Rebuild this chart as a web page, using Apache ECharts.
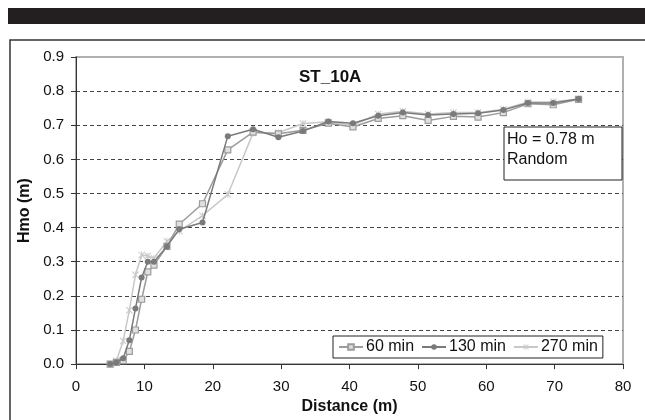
<!DOCTYPE html>
<html>
<head>
<meta charset="utf-8">
<script src="https://cdn.jsdelivr.net/npm/echarts@6/dist/echarts.min.js"></script>
<style>
  html, body { margin: 0; padding: 0; background: #fff; }
  #chart { width: 645px; height: 420px; }
</style>
</head>
<body>
<div id="chart"></div>
<script>
// distance along flume (m)
const distance = [5.0, 5.9, 6.9, 7.8, 8.7, 9.6, 10.5, 11.4, 13.3, 15.1, 18.5, 22.2, 25.9,
  29.6, 33.2, 36.9, 40.5, 44.2, 47.8, 51.5, 55.2, 58.8, 62.5, 66.1, 69.8, 73.5];

// Hmo (m) per run time
const hmo60 = [0.0, 0.005, 0.01, 0.037, 0.10, 0.19, 0.27, 0.29, 0.345, 0.41, 0.47, 0.628, 0.68,
  0.675, 0.685, 0.706, 0.695, 0.72, 0.728, 0.714, 0.726, 0.724, 0.737, 0.763, 0.76, 0.776];
const hmo130 = [0.0, 0.005, 0.017, 0.07, 0.163, 0.254, 0.30, 0.30, 0.345, 0.395, 0.415, 0.668, 0.688,
  0.665, 0.683, 0.711, 0.706, 0.728, 0.737, 0.73, 0.733, 0.735, 0.745, 0.765, 0.765, 0.777];
const hmo270 = [0.0, 0.01, 0.068, 0.158, 0.262, 0.32, 0.317, 0.31, 0.36, 0.39, 0.435, 0.497, 0.677,
  0.678, 0.705, 0.71, 0.70, 0.733, 0.741, 0.733, 0.737, 0.737, 0.747, 0.768, 0.769, 0.777];

const seriesNames = ['60 min', '130 min', '270 min'];

function pairs(ys) {
  return distance.map((d, i) => [d, ys[i]]);
}

const crossIcon = 'path://M0,1L1,0L5,4L9,0L10,1L6,5L10,9L9,10L5,6L1,10L0,9L4,5Z M4.4,0L5.6,0L5.6,10L4.4,10Z';
const font = 'Liberation Sans, Arial, sans-serif';

const chart = echarts.init(document.getElementById('chart'));
const option = {
  animation: false,
  backgroundColor: '#fff',
  textStyle: { fontFamily: font },
  title: {
    text: 'ST_10A',
    left: 294,
    top: 64,
    textStyle: { fontSize: 17, fontWeight: 'bold', color: '#111', fontFamily: font }
  },
  grid: {
    left: 76, right: 22, top: 57, bottom: 54,
    show: true, borderColor: '#b0b0b0', borderWidth: 2, backgroundColor: 'transparent'
  },
  legend: {
    left: 333, top: 336,
    orient: 'horizontal',
    data: seriesNames,
    itemWidth: 24, itemHeight: 7, itemGap: 7,
    padding: [3, 5],
    borderColor: '#222', borderWidth: 1,
    backgroundColor: '#fff',
    textStyle: { fontSize: 16, color: '#111', fontFamily: font, padding: [0, 0, 0, -2] }
  },
  xAxis: {
    type: 'value',
    min: 0, max: 80, interval: 10,
    name: 'Distance (m)',
    nameLocation: 'middle',
    nameGap: 31,
    nameTextStyle: { fontSize: 16, fontWeight: 'bold', color: '#111', fontFamily: font },
    axisLine: { lineStyle: { color: '#333', width: 1 } },
    axisTick: { show: true, inside: false, length: 5, lineStyle: { color: '#333' } },
    axisLabel: { fontSize: 15, color: '#111', margin: 15, fontFamily: font },
    splitLine: { show: false }
  },
  yAxis: {
    type: 'value',
    min: 0, max: 0.9, interval: 0.1,
    name: 'Hmo (m)',
    nameLocation: 'middle',
    nameGap: 40,
    nameTextStyle: { fontSize: 16, fontWeight: 'bold', color: '#111', fontFamily: font },
    axisLine: { show: true, lineStyle: { color: '#333', width: 1 } },
    axisTick: { show: true, inside: false, length: 5, lineStyle: { color: '#333' } },
    axisLabel: { fontSize: 15, color: '#111', margin: 12, fontFamily: font,
      formatter: v => v.toFixed(1) },
    splitLine: {
      show: true, showMinLine: false, showMaxLine: false,
      lineStyle: { type: [4, 3], color: '#444', width: 1 }
    }
  },
  graphic: [
    { type: 'rect', shape: { x: 8, y: 8, width: 640, height: 16 }, style: { fill: '#231f20' }, silent: true },
    { type: 'rect', shape: { x: 10, y: 40, width: 640, height: 390 },
      style: { fill: 'none', stroke: '#333', lineWidth: 1.5 }, silent: true },
    { type: 'rect', shape: { x: 504, y: 127, width: 118, height: 53 },
      style: { fill: '#fff', stroke: '#222', lineWidth: 1 }, z: 10 },
    { type: 'text', x: 507, y: 130, z: 11,
      style: { text: 'Ho = 0.78 m\nRandom', fontSize: 16, lineHeight: 20, fill: '#111', fontFamily: font } }
  ],
  series: [
    {
      name: '60 min', type: 'line', data: pairs(hmo60),
      symbol: 'rect', symbolSize: 6,
      lineStyle: { color: '#9c9c9c', width: 1.5 },
      itemStyle: { color: '#e0e0e0', borderColor: '#9c9c9c', borderWidth: 1.2 },
      z: 3
    },
    {
      name: '130 min', type: 'line', data: pairs(hmo130),
      symbol: 'circle', symbolSize: 6,
      lineStyle: { color: '#7a7a7a', width: 1.5 },
      itemStyle: { color: '#7a7a7a' },
      z: 4
    },
    {
      name: '270 min', type: 'line', data: pairs(hmo270),
      symbol: crossIcon, symbolSize: 7,
      lineStyle: { color: '#c8c8c8', width: 1.5 },
      itemStyle: { color: '#c8c8c8' },
      z: 2
    }
  ]
};
chart.setOption(option);
</script>
</body>
</html>
